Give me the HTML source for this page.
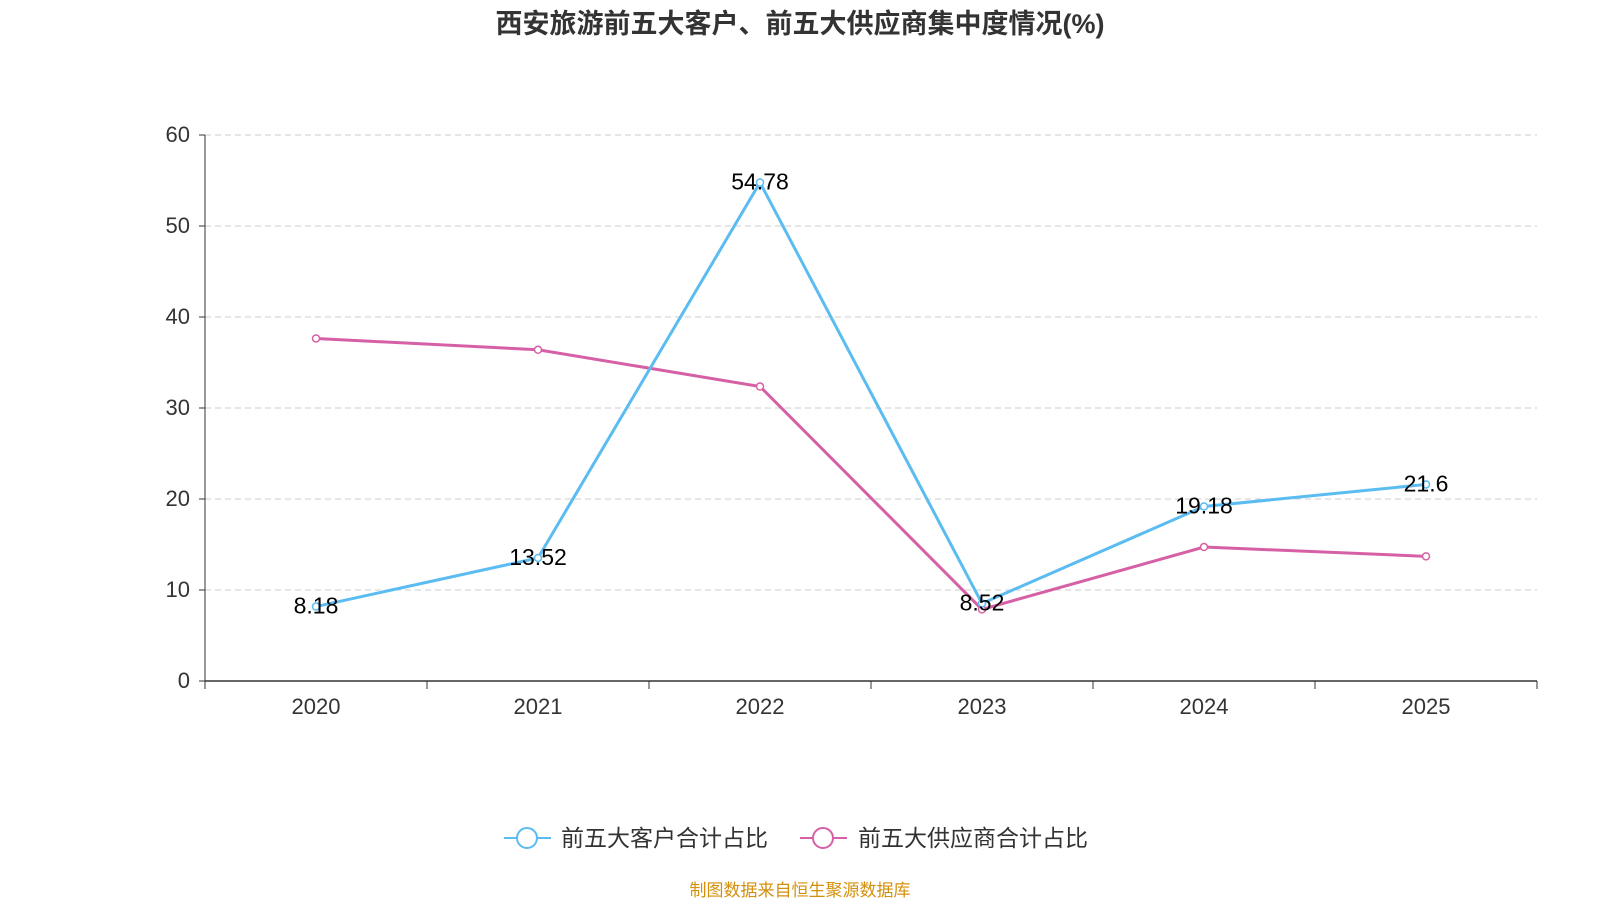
<!DOCTYPE html>
<html><head><meta charset="utf-8"><style>
body{margin:0;background:#fff;width:1600px;height:900px;overflow:hidden;font-family:"Liberation Sans","Noto Sans CJK SC",sans-serif}
svg text{font-family:"Liberation Sans","Noto Sans CJK SC",sans-serif}
</style></head><body>
<svg id="chart" width="1600" height="900">
<text x="800" y="33" text-anchor="middle" font-size="27" font-weight="bold" fill="#333">西安旅游前五大客户、前五大供应商集中度情况(%)</text>
<g id="grid"></g><g id="axes"></g><g id="series"></g>
<g>
<g>
<line x1="504" y1="838" x2="551" y2="838" stroke="#5bbcf2" stroke-width="2"/>
<circle cx="527" cy="838" r="10" fill="#fff" stroke="#5bbcf2" stroke-width="2"/>
<text x="561" y="846" font-size="23" fill="#333">前五大客户合计占比</text></g>
<g>
<line x1="800" y1="838" x2="847" y2="838" stroke="#d660a5" stroke-width="2"/>
<circle cx="823" cy="838" r="10" fill="#fff" stroke="#d660a5" stroke-width="2"/>
<text x="858" y="846" font-size="23" fill="#333">前五大供应商合计占比</text></g>
</g>
<text x="800" y="896" text-anchor="middle" font-size="17" fill="#d4900c">制图数据来自恒生聚源数据库</text>
</svg>
<script>
const categories=["2020","2021","2022","2023","2024","2025"];
const customerValues=[8.18,13.52,54.78,8.52,19.18,21.6];
const supplierValues=[37.64,36.4,32.36,7.87,14.72,13.7];
const yTicks=[0,10,20,30,40,50,60];
const NS="http://www.w3.org/2000/svg";
const L=205,R=1537,T=135,B=681,yMax=60;
const bw=(R-L)/categories.length;
const x=i=>L+bw*(i+0.5);
const y=v=>B-(v/yMax)*(B-T);
function mk(tag,attrs,parent,txt){const e=document.createElementNS(NS,tag);for(const k in attrs)e.setAttribute(k,attrs[k]);if(txt!==undefined)e.textContent=txt;document.getElementById(parent).appendChild(e);return e;}
yTicks.forEach(t=>{
 if(t>0){const g=mk('line',{x1:L,x2:R,y1:y(t),y2:y(t),stroke:'#ccc','stroke-dasharray':'6,4'},'grid');
 
 }
 const tk=mk('line',{x1:L-6,x2:L,y1:y(t),y2:y(t),stroke:'#333'},'axes');
 
 
 const lb=mk('text',{x:L-15,y:y(t)+7,'text-anchor':'end','font-size':'22',fill:'#333'},'axes',t);
 
 
});
const ya=mk('line',{x1:L,x2:L,y1:T,y2:B,stroke:'#333'},'axes');


const xa=mk('line',{x1:L,x2:R,y1:B,y2:B,stroke:'#333','stroke-width':1.5},'axes');


for(let i=0;i<=categories.length;i++){const t=mk('line',{x1:L+bw*i,x2:L+bw*i,y1:B,y2:B+8,stroke:'#333'},'axes');

}
categories.forEach((c,i)=>{const t=mk('text',{x:x(i),y:B+33,'text-anchor':'middle','font-size':'22',fill:'#333'},'axes',c);

});
function series(vals,color,name,labels){
 const p=mk('polyline',{points:vals.map((v,i)=>x(i)+','+y(v)).join(' '),fill:'none',stroke:color,'stroke-width':3},'series');
 
 
 vals.forEach((v,i)=>{const c=mk('circle',{cx:x(i),cy:y(v),r:3.5,fill:'#fff',stroke:color,'stroke-width':1.5},'series');
 
 
 if(labels){const t=mk('text',{x:x(i),y:y(v)+7,'text-anchor':'middle','font-size':'23',fill:'#000'},'series',v);
 
 }});
}
series(supplierValues,'#d660a5','supplier',false);
series(customerValues,'#5bbcf2','customer',true);
</script>
</body></html>
